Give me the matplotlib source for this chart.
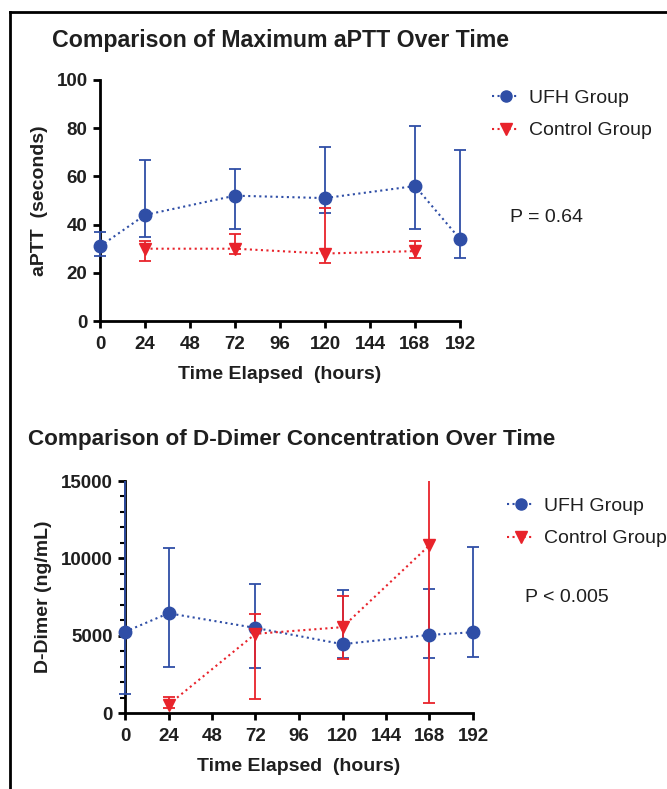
import numpy as np
import matplotlib
matplotlib.use('Agg')
import matplotlib.pyplot as plt
from matplotlib.lines import Line2D

plt.rcParams['font.family'] = ['Liberation Sans', 'DejaVu Sans']

# time points (hours)
hours = [0, 24, 72, 120, 168, 192]
ctrl_hours = [24, 72, 120, 168]
xticks = [0, 24, 48, 72, 96, 120, 144, 168, 192]

# aPTT (seconds): point, lower bar end, upper bar end
ufh_aptt = [31, 44, 52, 51, 56, 34]
ufh_aptt_lo = [27, 35, 38, 45, 38, 26]
ufh_aptt_hi = [37, 67, 63, 72, 81, 71]
ctrl_aptt = [30, 30, 28, 29]
ctrl_aptt_lo = [25, 28, 24, 26]
ctrl_aptt_hi = [33, 36, 47, 33]

# D-Dimer (ng/mL)
ufh_dd = [5250, 6450, 5500, 4450, 5050, 5220]
ufh_dd_lo = [1250, 2990, 2880, 3570, 3570, 3590]
ufh_dd_hi = [16000, 10640, 8320, 7930, 8000, 10750]
ctrl_dd = [540, 5120, 5550, 10850]
ctrl_dd_lo = [300, 900, 3480, 620]
ctrl_dd_hi = [1010, 6400, 7570, 16000]

BLUE = '#2f4ea6'
RED = '#e8232b'
TXT = '#1f1f1f'


def series(ax, x, y, lo, hi, color, marker):
    y = np.array(y)
    err = [y - np.array(lo), np.array(hi) - y]
    c = ax.errorbar(x, y, yerr=err, color=color, ecolor=color, elinewidth=1.3,
                    capsize=4, capthick=1.3, marker=marker, markersize=9,
                    linestyle=':', linewidth=1.5, zorder=3)
    c.lines[0].set_clip_on(False)
    return c


def style(ax, ylim, yticks, xlabel, ylabel):
    ax.set_xlim(-8, 200)
    ax.set_ylim(*ylim)
    ax.spines['top'].set_visible(False)
    ax.spines['right'].set_visible(False)
    ax.spines['left'].set_position(('data', 0))
    ax.spines['bottom'].set_bounds(0, 192)
    for s in ['left', 'bottom']:
        ax.spines[s].set_linewidth(2)
    ax.set_xticks(xticks)
    ax.set_yticks(yticks)
    ax.tick_params(width=2, length=5, pad=4, labelsize=13.5, colors='black',
                   labelcolor=TXT)
    ax.tick_params(axis='x', pad=6)
    for t in ax.get_xticklabels() + ax.get_yticklabels():
        t.set_fontweight('bold')
    ax.set_xlabel(xlabel, fontsize=14, fontweight='bold', color=TXT, labelpad=9)
    ax.set_ylabel(ylabel, fontsize=14, fontweight='bold', color=TXT, labelpad=6)


def add_legend(ax, x, y):
    handles = [Line2D([], [], color=BLUE, marker='o', markersize=8, linestyle=':', lw=1.5),
               Line2D([], [], color=RED, marker='v', markersize=8, linestyle=':', lw=1.5)]
    ax.legend(handles, ['UFH Group', 'Control Group'], loc='upper left',
              bbox_to_anchor=(x, y), bbox_transform=fig.transFigure, frameon=False,
              fontsize=14, handlelength=1.4, handletextpad=0.5, labelspacing=0.78,
              borderpad=0, borderaxespad=0, labelcolor=TXT)


fig = plt.figure(figsize=(6.67, 7.89), dpi=100)

# --- aPTT panel
ax1 = fig.add_axes([85 / 667, 1 - 321 / 789, 390 / 667, 241 / 789])
series(ax1, hours, ufh_aptt, ufh_aptt_lo, ufh_aptt_hi, BLUE, 'o')
series(ax1, ctrl_hours, ctrl_aptt, ctrl_aptt_lo, ctrl_aptt_hi, RED, 'v')
style(ax1, (0, 100), [0, 20, 40, 60, 80, 100], 'Time Elapsed  (hours)', 'aPTT  (seconds)')
add_legend(ax1, 492 / 667, 1 - 89 / 789)
fig.text(510 / 667, 1 - 217 / 789, 'P = 0.64', fontsize=14, color=TXT,
         ha='left', va='center')
fig.text(52 / 667, 1 - 41 / 789, 'Comparison of Maximum aPTT Over Time',
         fontsize=16.7, fontweight='bold', color=TXT, ha='left', va='center')

# --- D-Dimer panel
ax2 = fig.add_axes([110.5 / 667, 1 - 713 / 789, 377 / 667, 232 / 789])
series(ax2, hours, ufh_dd, ufh_dd_lo, ufh_dd_hi, BLUE, 'o')
series(ax2, ctrl_hours, ctrl_dd, ctrl_dd_lo, ctrl_dd_hi, RED, 'v')
style(ax2, (0, 15000), [0, 5000, 10000, 15000], 'Time Elapsed  (hours)', 'D-Dimer (ng/mL)')
ax2.set_yticks(np.arange(0, 15001, 1000), minor=True)
ax2.tick_params(axis='y', which='minor', width=1.5, length=3.5)
add_legend(ax2, 507 / 667, 1 - 497 / 789)
fig.text(525 / 667, 1 - 598 / 789, 'P < 0.005', fontsize=14, color=TXT,
         ha='left', va='center')
fig.text(28 / 667, 1 - 440 / 789, 'Comparison of D-Dimer Concentration Over Time',
         fontsize=16.2, fontweight='bold', color=TXT, ha='left', va='center')

# outer frame (top and left only)
fig.add_artist(Line2D([10 / 667, 1], [1 - 12 / 789, 1 - 12 / 789], color='black', lw=2))
fig.add_artist(Line2D([10 / 667, 10 / 667], [0, 1 - 12 / 789], color='black', lw=2))

plt.savefig('out.png', dpi=100)
